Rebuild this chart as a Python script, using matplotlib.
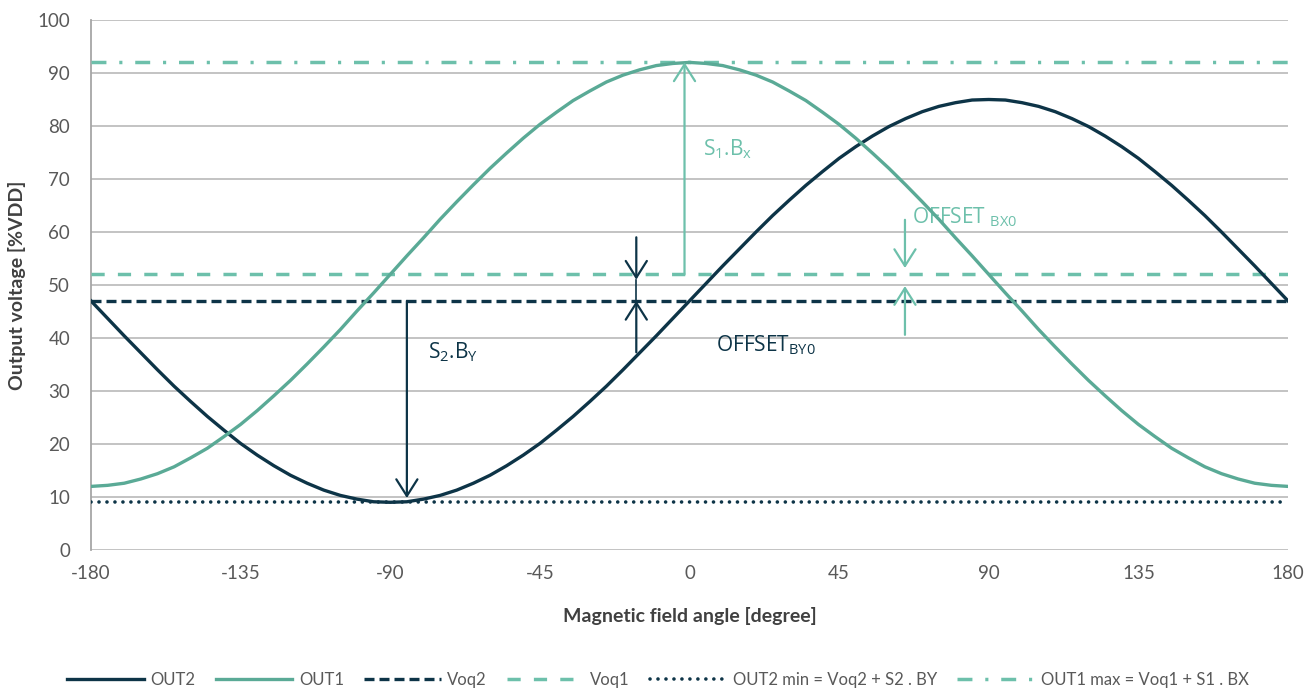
import matplotlib
matplotlib.use('Agg')
import matplotlib.pyplot as plt
import numpy as np

# angle axis, values every 5 degrees
angle = list(range(-180, 181, 5))

out2 = [47.0, 43.7, 40.4, 37.2, 34.0, 30.9, 28.0, 25.2, 22.6, 20.1,
        17.9, 15.9, 14.1, 12.6, 11.3, 10.3, 9.6, 9.1, 9.0, 9.1,
        9.6, 10.3, 11.3, 12.6, 14.1, 15.9, 17.9, 20.1, 22.6, 25.2,
        28.0, 30.9, 34.0, 37.2, 40.4, 43.7, 47.0, 50.3, 53.6, 56.8,
        60.0, 63.1, 66.0, 68.8, 71.4, 73.9, 76.1, 78.1, 79.9, 81.4,
        82.7, 83.7, 84.4, 84.9, 85.0, 84.9, 84.4, 83.7, 82.7, 81.4,
        79.9, 78.1, 76.1, 73.9, 71.4, 68.8, 66.0, 63.1, 60.0, 56.8,
        53.6, 50.3, 47.0]

out1 = [12.0, 12.2, 12.6, 13.4, 14.4, 15.7, 17.4, 19.2, 21.4, 23.7,
        26.3, 29.1, 32.0, 35.1, 38.3, 41.6, 45.1, 48.5, 52.0, 55.5,
        58.9, 62.4, 65.7, 68.9, 72.0, 74.9, 77.7, 80.3, 82.6, 84.8,
        86.6, 88.3, 89.6, 90.6, 91.4, 91.8, 92.0, 91.8, 91.4, 90.6,
        89.6, 88.3, 86.6, 84.8, 82.6, 80.3, 77.7, 74.9, 72.0, 68.9,
        65.7, 62.4, 58.9, 55.5, 52.0, 48.5, 45.1, 41.6, 38.3, 35.1,
        32.0, 29.1, 26.3, 23.7, 21.4, 19.2, 17.4, 15.7, 14.4, 13.4,
        12.6, 12.2, 12.0]

voq2 = 47
voq1 = 52
out2_min = 9
out1_max = 92

x_ticks = [-180, -135, -90, -45, 0, 45, 90, 135, 180]
y_ticks = list(range(0, 101, 10))

dark = '#0d3447'
teal = '#5aaa96'
light_teal = '#6dc0ab'
grey = '#595959'

plt.rcParams['font.family'] = ['Lato', 'DejaVu Sans']
plt.rcParams['mathtext.fontset'] = 'custom'
plt.rcParams['mathtext.rm'] = 'Open Sans'
plt.rcParams['mathtext.it'] = 'Open Sans'

fig = plt.figure(figsize=(13.16, 6.9), dpi=100)
ax = fig.add_axes([91/1316, 140/690, 1197/1316, 530/690])

x_line = [angle[0], angle[-1]]
ax.plot(angle, out2, color=dark, lw=2.4, label='OUT2', zorder=5)
ax.plot(angle, out1, color=teal, lw=2.4, label='OUT1', zorder=5)
ax.plot(x_line, [voq2, voq2], color=dark, lw=2.4, dashes=(3, 1.5), label='Voq2', zorder=4)
ax.plot(x_line, [voq1, voq1], color=light_teal, lw=2.5, dashes=(3.8, 3.8), label='Voq1', zorder=4)
ax.plot(x_line, [out2_min, out2_min], color=dark, lw=2.6, dashes=(0.01, 2.2),
        dash_capstyle='round', label='OUT2 min = Voq2 + S2 . BY', zorder=4)
ax.plot(x_line, [out1_max, out1_max], color=light_teal, lw=2.5, dashes=(4.3, 3.7, 0.9, 3.7),
        label='OUT1 max = Voq1 + S1 . BX', zorder=4)


def arrow(x, y0, y1, col):
    ax.annotate('', xy=(x, y1), xytext=(x, y0), zorder=6,
                arrowprops=dict(arrowstyle='->,head_length=0.6,head_width=0.38',
                                color=col, lw=1.6, shrinkA=0, shrinkB=0,
                                mutation_scale=20))


# annotations
arrow(-1.5, voq1, out1_max, light_teal)
arrow(-85, voq2, 9.8, dark)
arrow(-16, 59, 51, dark)
arrow(-16, 37.3, voq2, dark)
ax.plot([-16, -16], [51, voq2], color=dark, lw=1.2, zorder=6)
arrow(64.8, 62.3, 53.2, light_teal)
arrow(64.8, 40.6, 49.8, light_teal)

ax.text(4.2, 74.5, r'S$_{\mathrm{1}}$.B$_{\mathrm{x}}$', color=light_teal, fontsize=15,
        family='Open Sans', va='baseline')
ax.text(-78.5, 36.2, r'S$_{\mathrm{2}}$.B$_{\mathrm{Y}}$', color=dark, fontsize=15,
        family='Open Sans', va='baseline')
ax.text(8.1, 37.4, r'OFFSET$_{\mathrm{BY0}}$', color=dark, fontsize=15,
        family='Open Sans', va='baseline')
ax.text(66.8, 61.7, r'OFFSET $_{\mathrm{BX0}}$', color=light_teal, fontsize=15,
        family='Open Sans', va='baseline')

ax.set_xlim(-180, 180)
ax.set_ylim(0, 100)
ax.set_xticks(x_ticks)
ax.set_yticks(y_ticks)
ax.set_xticklabels([str(v) for v in x_ticks])
ax.tick_params(axis='both', length=0, labelsize=13.5, labelcolor=grey)
ax.tick_params(axis='x', pad=11)
ax.tick_params(axis='y', pad=15)
ax.grid(axis='y', color='#b3b3b3', lw=1.1)
ax.set_axisbelow(True)
for s in ['top', 'right', 'bottom']:
    ax.spines[s].set_visible(False)
ax.spines['left'].set_color('#a6a6a6')
ax.spines['left'].set_linewidth(1.3)

ax.set_xlabel('Magnetic field angle [degree]', fontsize=14, fontweight='bold', color='#404040')
ax.xaxis.set_label_coords(0.5, -0.108)
ax.set_ylabel('Output voltage [%VDD]', fontsize=14, fontweight='bold', color='#404040')
ax.yaxis.set_label_coords(-0.054, 0.5)

fig.legend(loc='center', bbox_to_anchor=(0.5, 1 - 680/690), ncol=6, frameon=False,
           fontsize=12, handlelength=4.6, columnspacing=1.2, handletextpad=0.4,
           labelcolor=grey)

fig.savefig('out.png', dpi=100)
